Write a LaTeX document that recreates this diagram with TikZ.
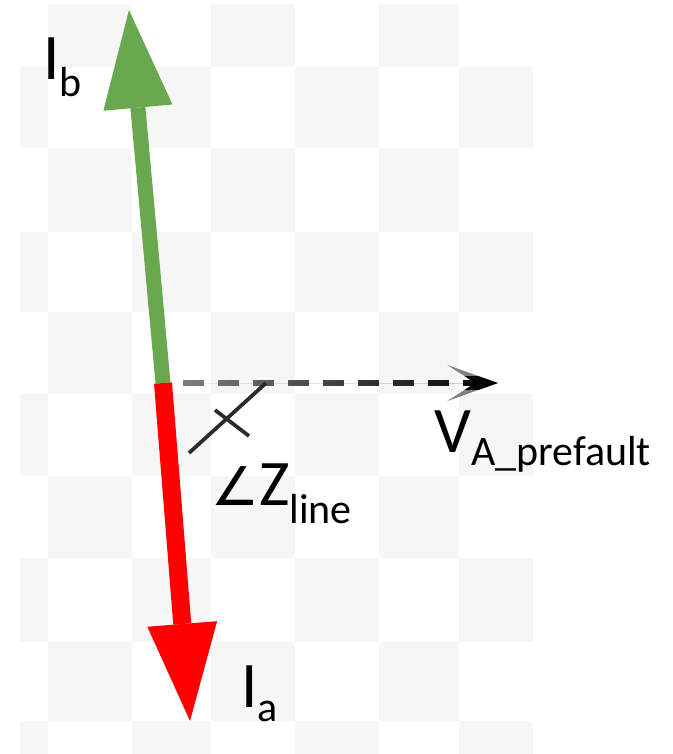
\documentclass[tikz,border=0pt]{standalone}
\usepackage{fontspec}
\setmainfont{Carlito}
\newfontfamily\symfnt{DejaVu Sans}
\usetikzlibrary{arrows.meta,fadings}
\definecolor{chk}{HTML}{F6F6F6}
\definecolor{grn}{HTML}{6AA84F}
\definecolor{redA}{HTML}{FF0000}
\definecolor{mk}{HTML}{2B2B2B}
\definecolor{dgray}{HTML}{808080}
\tikzfading[name=fadetoR, left color=transparent!100, right color=transparent!0]
\newcommand\mainsz{\fontsize{48.75pt}{50pt}\selectfont}
\newcommand\subsz{\fontsize{31.5pt}{33pt}\selectfont}
\newcommand\subtxt[2]{\raisebox{-#1}{\subsz #2}}
\begin{document}
\begin{tikzpicture}[x=0.75pt,y=-0.75pt,
  cell/.style={fill=chk},
  grnarrow/.style={draw=grn, line width=11.25pt, -{Triangle[length=73.5pt,width=52pt,line width=0pt]}},
  redarrow/.style={draw=redA, line width=13.5pt, -{Triangle[length=73pt,width=52.5pt,line width=0pt]}},
  dashln/.style={line width=4.8pt, dash pattern=on 15.75pt off 10.5pt, -{Stealth[length=38pt,width=27pt,inset=21pt,line width=1.5pt]}},
  marker/.style={draw=mk, line width=2.8pt},
  lbl/.style={inner sep=0pt, anchor=base west, font=\mainsz, text=black}]
\useasboundingbox (0,0) rectangle (672,754);
% checkerboard background
\foreach \ya/\yb in {4/67,148/232,312/394,476/558,642/721}{
  \foreach \xa/\xb in {48/132,211/295,379/459}{
    \fill[cell] (\xa,\ya) rectangle (\xb,\yb);}}
\foreach \ya/\yb in {67/148,232/312,394/476,558/642,721/754}{
  \foreach \xa/\xb in {20/48,132/211,295/379,459/533}{
    \fill[cell] (\xa,\ya) rectangle (\xb,\yb);}}
% points
\coordinate (O) at (163,383);
\coordinate (Bt) at (129,10);
\coordinate (At) at (190,721);
\coordinate (Vs) at (183,383);
\coordinate (Vt) at (498,383);
\coordinate (M1) at (189,453);
\coordinate (M2) at (266,383);
\coordinate (T1) at (215,410);
\coordinate (T2) at (249,436);
% phasors
\draw[grnarrow] (O) -- (Bt);
\draw[redarrow] (O) -- (At);
\draw[dashln, draw=dgray, fill=dgray] (Vs) -- (Vt);
\draw[dashln, draw=black, fill=black, path fading=fadetoR] (Vs) -- (Vt);
% angle marker
\draw[marker] (M1) -- (M2);
\draw[marker] (T1) -- (T2);
% labels
\node[lbl] (Ib) at (43,79) {I\subtxt{12.75pt}{b}};
\node[lbl] (Ia) at (241,707) {I\subtxt{11pt}{a}};
\node[lbl] (Vp) at (434,452) {V\subtxt{9.75pt}{A\_prefault}};
\node[lbl] (Zl) at (211,505) {{\symfnt\fontsize{40pt}{40pt}\selectfont ∠}Z\subtxt{13.5pt}{line}};
\end{tikzpicture}
\end{document}
